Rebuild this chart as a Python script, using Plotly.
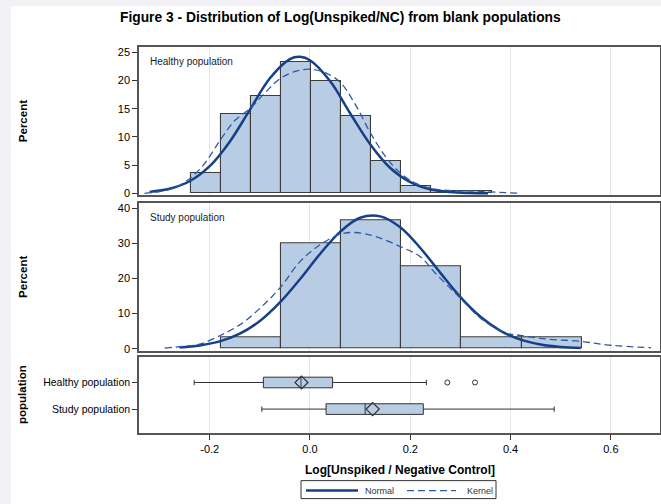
import plotly.graph_objects as go

# ---------------- data ----------------
title_text = "Figure 3 - Distribution of Log(Unspiked/NC) from blank populations"
x_title = "Log[Unspiked / Negative Control]"
populations = ["Healthy population", "Study population"]
legend_names = ["Normal", "Kernel"]

# Healthy population histogram (bin width 0.06)
healthy_bin_centers = [-0.208, -0.148, -0.088, -0.028, 0.032, 0.092, 0.152, 0.212, 0.272, 0.332]
healthy_bin_width = 0.06
healthy_pct = [3.67, 14.0, 17.33, 23.33, 20.0, 13.67, 5.67, 1.33, 0.33, 0.33]

healthy_normal_x = [-0.32, -0.28, -0.24, -0.20, -0.16, -0.12, -0.08, -0.04, -0.02, 0.00,
                    0.04, 0.08, 0.12, 0.16, 0.20, 0.24, 0.28, 0.32, 0.355]
healthy_normal_y = [0.26, 0.81, 2.14, 4.81, 9.16, 14.8, 20.4, 23.8, 24.2, 23.6,
                    19.9, 14.2, 8.7, 4.5, 2.0, 0.73, 0.23, 0.06, 0.01]

healthy_kernel_x = [-0.33, -0.30, -0.27, -0.24, -0.21, -0.18, -0.15, -0.12, -0.09, -0.06,
                    -0.03, 0.00, 0.03, 0.06, 0.09, 0.12, 0.15, 0.18, 0.21, 0.24,
                    0.27, 0.30, 0.33, 0.36, 0.39, 0.42]
healthy_kernel_y = [0.0, 0.3, 1.0, 2.6, 5.3, 9.3, 12.9, 15.0, 17.8, 20.3,
                    21.6, 22.0, 21.4, 19.7, 15.8, 10.8, 6.6, 3.6, 1.8, 0.9,
                    0.55, 0.45, 0.4, 0.25, 0.12, 0.03]

# Study population histogram (bin width 0.12)
study_bin_centers = [-0.118, 0.002, 0.122, 0.242, 0.362, 0.482]
study_bin_width = 0.12
study_pct = [3.33, 30.0, 36.67, 23.33, 3.33, 3.33]

study_normal_x = [-0.26, -0.22, -0.18, -0.14, -0.10, -0.06, -0.02, 0.02, 0.06, 0.10,
                  0.14, 0.18, 0.22, 0.26, 0.30, 0.34, 0.38, 0.42, 0.46, 0.50, 0.54]
study_normal_y = [0.39, 0.95, 2.1, 4.3, 7.9, 13.2, 19.8, 27.0, 33.3, 37.3,
                  37.7, 34.6, 28.7, 21.6, 14.7, 9.1, 5.1, 2.6, 1.2, 0.5, 0.2]

study_kernel_x = [-0.29, -0.25, -0.22, -0.18, -0.14, -0.10, -0.06, -0.02, 0.02, 0.06,
                  0.09, 0.13, 0.18, 0.22, 0.25, 0.30, 0.34, 0.39, 0.42, 0.47,
                  0.54, 0.60, 0.68]
study_kernel_y = [0.2, 0.7, 1.3, 3.7, 6.8, 11.5, 17.3, 24.8, 29.6, 32.6,
                  33.1, 32.0, 29.1, 26.2, 21.5, 14.4, 8.7, 4.5, 3.8, 2.8,
                  2.1, 1.0, 0.3]

# Box plot statistics
box_lowerfence = [-0.231, -0.096]
box_q1 = [-0.093, 0.032]
box_median = [-0.018, 0.110]
box_q3 = [0.045, 0.226]
box_upperfence = [0.232, 0.487]
box_mean = [-0.017, 0.125]
healthy_outliers = [0.274, 0.329]

x_tickvals = [-0.2, 0.0, 0.2, 0.4, 0.6]
x_ticktext = ["-0.2", "0.0", "0.2", "0.4", "0.6"]

# ---------------- styling ----------------
FONT = "Arial, Liberation Sans, sans-serif"
BAR_FILL = "#b8cce4"
BAR_LINE = "#3c3c3c"
NORMAL_COLOR = "#173f88"
KERNEL_COLOR = "#2c5aa0"
FRAME = "#555555"
GRID = "#e6e6e6"
NORMAL_LINE = dict(color=NORMAL_COLOR, width=2.5)
KERNEL_LINE = dict(color=KERNEL_COLOR, width=1.3, dash="7px,4px")

fig = go.Figure()

# Top panel: Healthy
fig.add_trace(go.Bar(x=healthy_bin_centers, y=healthy_pct, width=healthy_bin_width,
                     marker=dict(color=BAR_FILL, line=dict(color=BAR_LINE, width=1.1)),
                     showlegend=False, xaxis="x", yaxis="y"))
fig.add_trace(go.Scatter(x=healthy_normal_x, y=healthy_normal_y, mode="lines", name="Normal",
                         line=dict(**NORMAL_LINE, shape="spline"),
                         showlegend=False, xaxis="x", yaxis="y"))
fig.add_trace(go.Scatter(x=healthy_kernel_x, y=healthy_kernel_y, mode="lines", name="Kernel",
                         line=dict(**KERNEL_LINE, shape="spline"),
                         showlegend=False, xaxis="x", yaxis="y"))

# Middle panel: Study
fig.add_trace(go.Bar(x=study_bin_centers, y=study_pct, width=study_bin_width,
                     marker=dict(color=BAR_FILL, line=dict(color=BAR_LINE, width=1.1)),
                     showlegend=False, xaxis="x2", yaxis="y2"))
fig.add_trace(go.Scatter(x=study_normal_x, y=study_normal_y, mode="lines", name="Normal",
                         line=dict(**NORMAL_LINE, shape="spline"),
                         showlegend=False, xaxis="x2", yaxis="y2"))
fig.add_trace(go.Scatter(x=study_kernel_x, y=study_kernel_y, mode="lines", name="Kernel",
                         line=dict(**KERNEL_LINE, shape="spline"),
                         showlegend=False, xaxis="x2", yaxis="y2"))

# Bottom panel: box plots
for i, pop in enumerate(populations):
    fig.add_trace(go.Box(y=[pop], orientation="h",
                         lowerfence=[box_lowerfence[i]], q1=[box_q1[i]], median=[box_median[i]],
                         q3=[box_q3[i]], upperfence=[box_upperfence[i]],
                         fillcolor=BAR_FILL, line=dict(color="#333333", width=1),
                         width=0.4, whiskerwidth=0.5, boxpoints=False,
                         showlegend=False, hoverinfo="x", xaxis="x3", yaxis="y3"))
fig.add_trace(go.Scatter(x=box_mean, y=populations, mode="markers",
                         marker=dict(symbol="diamond-open", size=10, color="#333333",
                                     line=dict(width=1.2)),
                         showlegend=False, xaxis="x3", yaxis="y3"))
fig.add_trace(go.Scatter(x=healthy_outliers, y=[populations[0]] * len(healthy_outliers),
                         mode="markers",
                         marker=dict(symbol="circle-open", size=5, color="#333333",
                                     line=dict(width=1)),
                         showlegend=False, xaxis="x3", yaxis="y3"))

# ---------------- layout ----------------
PL, PT, PW, PB = 139, 46.7, 521, 433.3   # plot-area pixel geometry
PH = PB - PT


def px(v):
    return (v - PL) / PW


def py(v):
    return (PB - v) / PH


XR = [-0.341, 0.698]
xbase = dict(range=XR, showgrid=True, gridcolor=GRID, gridwidth=1, zeroline=False,
             showline=True, linecolor=FRAME, linewidth=1.5, mirror=True,
             tickvals=x_tickvals, ticktext=x_ticktext)
ybase = dict(showgrid=False, zeroline=False, showline=True, linecolor=FRAME, linewidth=1.5,
             mirror=True, ticks="outside", ticklen=5, tickcolor="#333333",
             tickfont=dict(size=11, color="black", family=FONT))

# manual legend (box, sample lines, labels)
leg_y = py(491)
shapes = [
    dict(type="rect", xref="paper", yref="paper", x0=-0.2457, x1=1.01, y0=-0.2, y1=py(6),
         fillcolor="white", line=dict(width=0), layer="below"),
    dict(type="rect", xref="paper", yref="paper", x0=px(301), x1=px(496), y0=py(499), y1=py(481),
         fillcolor="white", line=dict(color="#333333", width=1)),
    dict(type="line", xref="paper", yref="paper", x0=px(306), x1=px(358), y0=leg_y, y1=leg_y,
         line=NORMAL_LINE),
    dict(type="line", xref="paper", yref="paper", x0=px(407), x1=px(456), y0=leg_y, y1=leg_y,
         line=KERNEL_LINE),
]

fig.update_layout(
    width=661, height=504,
    margin=dict(l=139, r=1, t=47, b=71, autoexpand=False),
    paper_bgcolor="#f2f1f6", plot_bgcolor="white",
    font=dict(family=FONT, color="black"),
    bargap=0, showlegend=False,
    xaxis=dict(**xbase, anchor="y", domain=[0, 1], showticklabels=False, ticks=""),
    xaxis2=dict(**xbase, anchor="y2", domain=[0, 1], showticklabels=False, ticks=""),
    xaxis3=dict(**xbase, anchor="y3", domain=[0, 1], ticks="outside", ticklen=5,
                tickcolor="#333333", tickfont=dict(size=11, color="black", family=FONT)),
    yaxis=dict(**ybase, anchor="x", domain=[0.6156, 1.0], range=[-0.36, 25.94],
               tickvals=[0, 5, 10, 15, 20, 25]),
    yaxis2=dict(**ybase, anchor="x2", domain=[0.2137, 0.5949], range=[-0.5, 41.4],
                tickvals=[0, 10, 20, 30, 40]),
    yaxis3=dict(**{k: v for k, v in ybase.items() if k != "tickfont"}, anchor="x3",
                domain=[0.0, 0.1966], type="category",
                categoryorder="array", categoryarray=[populations[1], populations[0]],
                range=[-0.9, 1.955], tickfont=dict(size=10.5, color="black", family=FONT)),
    shapes=shapes,
    annotations=[
        dict(text="<b>" + title_text + "</b>", xref="paper", yref="paper",
             x=px(340), y=py(17), showarrow=False,
             xanchor="center", yanchor="middle", font=dict(size=13.8, family=FONT)),
        dict(text="<b>Percent</b>", xref="paper", yref="paper", x=px(23),
             y=(0.6156 + 1.0) / 2, textangle=-90, showarrow=False,
             xanchor="center", yanchor="middle", font=dict(size=11.5, family=FONT)),
        dict(text="<b>Percent</b>", xref="paper", yref="paper", x=px(23),
             y=(0.2137 + 0.5949) / 2, textangle=-90, showarrow=False,
             xanchor="center", yanchor="middle", font=dict(size=11.5, family=FONT)),
        dict(text="<b>population</b>", xref="paper", yref="paper", x=px(22),
             y=0.1966 / 2, textangle=-90, showarrow=False,
             xanchor="center", yanchor="middle", font=dict(size=11.5, family=FONT)),
        dict(text="<b>" + x_title + "</b>", xref="paper", yref="paper", x=0.5,
             y=py(470), showarrow=False, xanchor="center", yanchor="middle",
             font=dict(size=12, family=FONT)),
        dict(text=populations[0], xref="x domain", yref="y domain", x=0.017, y=0.905,
             showarrow=False, xanchor="left", yanchor="middle",
             font=dict(size=10, color="#222222", family=FONT)),
        dict(text=populations[1], xref="x2 domain", yref="y2 domain", x=0.017, y=0.905,
             showarrow=False, xanchor="left", yanchor="middle",
             font=dict(size=10, color="#222222", family=FONT)),
        dict(text=legend_names[0], xref="paper", yref="paper", x=px(363), y=leg_y,
             showarrow=False, xanchor="left", yanchor="middle",
             font=dict(size=9, color="#333333", family=FONT)),
        dict(text=legend_names[1], xref="paper", yref="paper", x=px(465), y=leg_y,
             showarrow=False, xanchor="left", yanchor="middle",
             font=dict(size=9, color="#333333", family=FONT)),
    ],
)

fig.write_html("out.html", config={"displayModeBar": False},
               post_script="document.body.style.margin='0';document.body.style.padding='0';")
